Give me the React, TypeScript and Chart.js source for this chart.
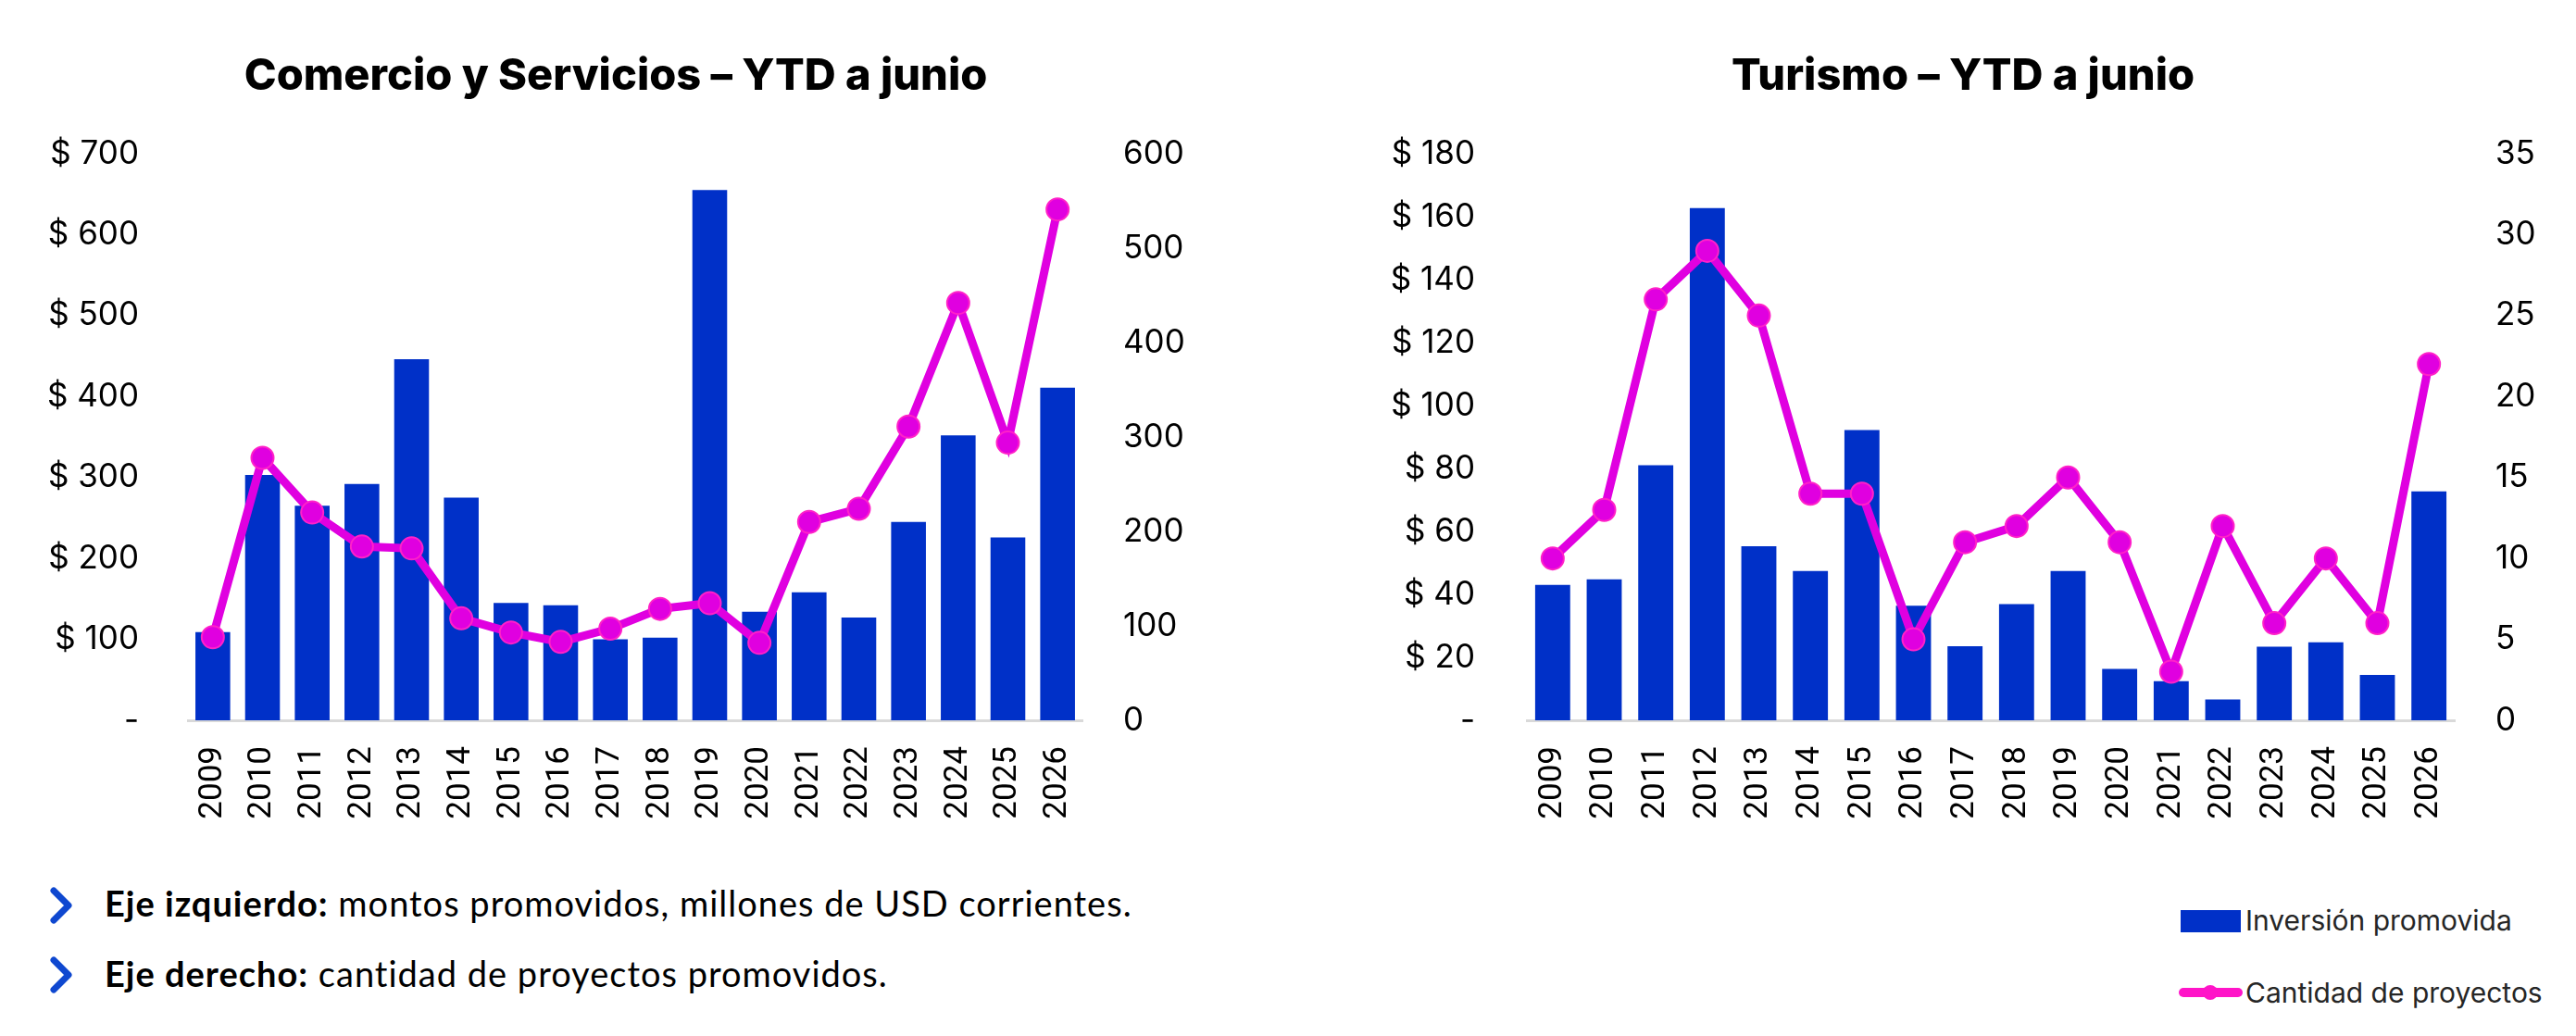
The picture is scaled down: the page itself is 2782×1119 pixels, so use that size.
import { useEffect, useRef } from "react";
import { Chart, registerables } from "chart.js";

Chart.register(...registerables);

const years = [
  "2009", "2010", "2011", "2012", "2013", "2014", "2015", "2016", "2017",
  "2018", "2019", "2020", "2021", "2022", "2023", "2024", "2025", "2026",
];

// Comercio y Servicios: millones de USD (eje izq.) y cantidad de proyectos (eje der.)
const comercioMontos = [109, 303, 265, 292, 446, 275, 145, 142, 100, 102, 655, 134, 158, 127, 245, 352, 226, 411];
const comercioProyectos = [88, 278, 220, 184, 182, 108, 93, 83, 97, 118, 124, 82, 210, 224, 311, 442, 294, 541];

// Turismo
const turismoMontos = [43, 44.8, 81, 162.7, 55.3, 47.4, 92.2, 36.4, 23.5, 36.9, 47.4, 16.3, 12.4, 6.6, 23.4, 24.8, 14.4, 72.7];
const turismoProyectos = [10, 13, 26, 29, 25, 14, 14, 5, 11, 12, 15, 11, 3, 12, 6, 10, 6, 22];

const BAR = "#0030C8";
const LINE = "#E000E0";
const POINT_EDGE = "#FF22C8";
const LEGEND_LINE = "#FF14C8";
const CHEVRON = "#0F48D0";

const CANVAS_H = 930;
const PLOT_TOP = 166;
const PLOT_BOTTOM = 778;
const TITLE_SIZE = 47;
const TITLE_TOP = 55;

type ComboProps = {
  title: string;
  montos: number[];
  proyectos: number[];
  leftMax: number;
  leftStep: number;
  rightMax: number;
  rightStep: number;
  left: number;
  width: number;
  leftAxisWidth: number;
  rightAxisWidth: number;
  leftPad: number;
  rightPad: number;
  barPct: number;
};

function ComboChart(props: ComboProps) {
  const canvasRef = useRef<HTMLCanvasElement>(null);
  const chartRef = useRef<Chart | null>(null);

  useEffect(() => {
    if (!canvasRef.current) return;
    if (chartRef.current) chartRef.current.destroy();
    const ctx = canvasRef.current.getContext("2d");
    if (!ctx) return;

    const tickFont = { family: "Inter, 'Open Sans', sans-serif", size: 35 };

    chartRef.current = new Chart(ctx, {
      type: "bar",
      data: {
        labels: years,
        datasets: [
          {
            type: "line",
            label: "Cantidad de proyectos",
            data: props.proyectos,
            yAxisID: "y1",
            borderColor: LINE,
            backgroundColor: LINE,
            borderWidth: 9,
            pointRadius: 12,
            pointBackgroundColor: LINE,
            pointBorderColor: POINT_EDGE,
            pointBorderWidth: 2,
            tension: 0,
            order: 0,
          },
          {
            type: "bar",
            label: "Inversión promovida",
            data: props.montos,
            yAxisID: "y",
            backgroundColor: BAR,
            categoryPercentage: 1,
            barPercentage: props.barPct,
            order: 1,
          },
        ],
      },
      options: {
        responsive: false,
        animation: false,
        layout: { padding: 0 },
        plugins: {
          legend: { display: false },
          tooltip: { enabled: false },
          title: {
            display: true,
            text: props.title,
            color: "#000",
            font: { family: "Inter, 'Open Sans', sans-serif", size: TITLE_SIZE, weight: 800 },
            padding: { top: TITLE_TOP, bottom: PLOT_TOP - TITLE_TOP - TITLE_SIZE * 1.2 },
          },
        },
        scales: {
          x: {
            grid: { display: false, drawTicks: false },
            border: { display: true, color: "#D9D9D9", width: 3 },
            ticks: {
              autoSkip: false,
              minRotation: 90,
              maxRotation: 90,
              padding: 28,
              color: "#000",
              font: { family: "Roboto, sans-serif", size: 35 },
            },
            afterFit: (s) => {
              s.height = CANVAS_H - PLOT_BOTTOM;
            },
          },
          y: {
            position: "left",
            min: 0,
            max: props.leftMax,
            grid: { display: false, drawTicks: false },
            border: { display: false },
            ticks: {
              stepSize: props.leftStep,
              padding: props.leftPad,
              color: "#000",
              font: tickFont,
              callback: (v) => (Number(v) === 0 ? "-" : "$ " + v),
            },
            afterFit: (s) => {
              s.width = props.leftAxisWidth;
            },
          },
          y1: {
            position: "right",
            min: 0,
            max: props.rightMax,
            grid: { display: false, drawTicks: false },
            border: { display: false },
            ticks: {
              stepSize: props.rightStep,
              padding: props.rightPad,
              color: "#000",
              font: tickFont,
            },
            afterFit: (s) => {
              s.width = props.rightAxisWidth;
            },
          },
        },
      },
    });

    return () => {
      if (chartRef.current) {
        chartRef.current.destroy();
        chartRef.current = null;
      }
    };
  }, []);

  return (
    <canvas
      ref={canvasRef}
      width={props.width}
      height={CANVAS_H}
      style={{ position: "absolute", left: props.left, top: 0 }}
    />
  );
}

function Chevron({ top }: { top: number }) {
  return (
    <svg
      width={30}
      height={40}
      style={{ position: "absolute", left: 52, top }}
      viewBox="0 0 30 40"
    >
      <polyline
        points="6,4 22,20 6,36"
        fill="none"
        stroke={CHEVRON}
        strokeWidth={7}
        strokeLinecap="round"
        strokeLinejoin="round"
      />
    </svg>
  );
}

const noteStyle = {
  position: "absolute" as const,
  left: 113,
  fontFamily: "Lato, 'Noto Sans', sans-serif",
  fontSize: 38,
  letterSpacing: 1,
  lineHeight: "46px",
  color: "#000",
  whiteSpace: "nowrap" as const,
};

const legendText = {
  position: "absolute" as const,
  left: 2425,
  fontFamily: "Inter, 'Open Sans', sans-serif",
  fontSize: 30,
  lineHeight: "36px",
  color: "#262626",
  whiteSpace: "nowrap" as const,
};

export default function App() {
  return (
    <div
      style={{
        position: "absolute",
        left: 0,
        top: 0,
        width: 2782,
        height: 1119,
        background: "#fff",
        overflow: "hidden",
      }}
    >
      <ComboChart
        title="Comercio y Servicios – YTD a junio"
        montos={comercioMontos}
        proyectos={comercioProyectos}
        leftMax={700}
        leftStep={100}
        rightMax={600}
        rightStep={100}
        left={0}
        width={1330}
        leftAxisWidth={203}
        rightAxisWidth={161}
        leftPad={53}
        rightPad={44}
        barPct={0.7}
      />
      <ComboChart
        title="Turismo – YTD a junio"
        montos={turismoMontos}
        proyectos={turismoProyectos}
        leftMax={180}
        leftStep={20}
        rightMax={35}
        rightStep={5}
        left={1458}
        width={1324}
        leftAxisWidth={191}
        rightAxisWidth={131}
        leftPad={56}
        rightPad={44}
        barPct={0.68}
      />

      <Chevron top={958} />
      <div style={{ ...noteStyle, top: 952 }}>
        <b>Eje izquierdo:</b> montos promovidos, millones de USD corrientes.
      </div>
      <Chevron top={1033} />
      <div style={{ ...noteStyle, top: 1028 }}>
        <b>Eje derecho:</b> cantidad de proyectos promovidos.
      </div>

      <div
        style={{
          position: "absolute",
          left: 2355,
          top: 983,
          width: 65,
          height: 24,
          background: BAR,
        }}
      />
      <div style={{ ...legendText, top: 976 }}>Inversión promovida</div>
      <div
        style={{
          position: "absolute",
          left: 2353,
          top: 1067,
          width: 69,
          height: 10,
          borderRadius: 5,
          background: LEGEND_LINE,
        }}
      />
      <div
        style={{
          position: "absolute",
          left: 2379,
          top: 1064,
          width: 16,
          height: 16,
          borderRadius: 8,
          background: LEGEND_LINE,
        }}
      />
      <div style={{ ...legendText, top: 1054 }}>Cantidad de proyectos</div>
    </div>
  );
}
